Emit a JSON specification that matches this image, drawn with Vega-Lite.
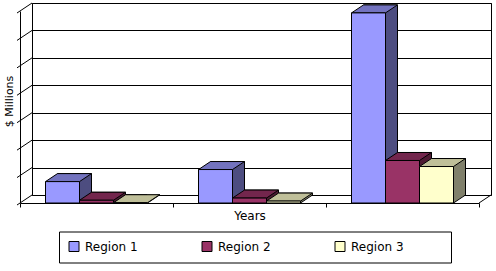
{
  "$schema": "https://vega.github.io/schema/vega-lite/v6.json",
  "width": 459,
  "height": 192,
  "autosize": "none",
  "padding": {"left": 32, "top": 3, "right": 5, "bottom": 76},
  "background": "white",
  "config": {
    "font": "DejaVu Sans",
    "view": {"stroke": "black", "strokeWidth": 1},
    "axis": {"domainColor": "black", "tickColor": "black", "titleColor": "black", "titleFontWeight": "normal", "titleFont": "DejaVu Sans"},
    "axisX": {"orient": "bottom", "offset": 8, "tickBand": "extent", "ticks": true, "tickSize": 4, "labels": false, "domain": true, "grid": false, "titleFontSize": 12, "titlePadding": 3},
    "axisY": {"offset": 12, "ticks": false, "labels": false, "domain": true, "grid": false, "titleFontSize": 11, "titlePadding": 6}
  },
  "datasets": {
    "bars": [
      {"Year": "Year 1", "Region": "Region 1", "value": 0.78},
      {"Year": "Year 1", "Region": "Region 2", "value": 0.10},
      {"Year": "Year 1", "Region": "Region 3", "value": 0.01},
      {"Year": "Year 2", "Region": "Region 1", "value": 1.22},
      {"Year": "Year 2", "Region": "Region 2", "value": 0.18},
      {"Year": "Year 2", "Region": "Region 3", "value": 0.07},
      {"Year": "Year 3", "Region": "Region 1", "value": 6.93},
      {"Year": "Year 3", "Region": "Region 2", "value": 1.55},
      {"Year": "Year 3", "Region": "Region 3", "value": 1.33}
    ],
    "levels": [
      {"Year": "Year 1", "level": 0},
      {"Year": "Year 1", "level": 1},
      {"Year": "Year 1", "level": 2},
      {"Year": "Year 1", "level": 3},
      {"Year": "Year 1", "level": 4},
      {"Year": "Year 1", "level": 5},
      {"Year": "Year 1", "level": 6},
      {"Year": "Year 1", "level": 7}
    ],
    "floorEnd": [
      {"Year": "Year 3", "level": 0}
    ]
  },
  "layer": [
    {
      "data": {"name": "bars"},
      "mark": {"type": "bar", "stroke": "black", "strokeWidth": 1, "opacity": 1},
      "encoding": {
        "x": {"field": "Year", "type": "nominal", "scale": {"paddingInner": 0, "paddingOuter": 0}, "axis": null},
        "xOffset": {"field": "Region", "type": "nominal", "scale": {"paddingInner": 0, "paddingOuter": 0.75}},
        "y": {"field": "value", "type": "quantitative", "scale": {"domain": [0, 7]},
          "axis": {"orient": "left", "offset": 0, "grid": true, "gridColor": "black", "gridOpacity": 1, "gridWidth": 1, "domain": true, "ticks": false, "labels": false, "title": null, "values": [0, 1, 2, 3, 4, 5, 6, 7]}},
        "fill": {"field": "Region", "type": "nominal", "scale": {"domain": ["Region 1", "Region 2", "Region 3"], "range": ["#4D4D80", "#4D1A33", "#80806B"]}, "legend": null}
      }
    },
    {
      "layer": [
        {
          "data": {"name": "bars"},
          "mark": {"type": "point", "shape": "M16.6,-9 L28.6,-9 L28.6,-7.9 L17,0 L16.6,0 Z", "size": 4, "filled": true, "opacity": 1, "strokeWidth": 0},
          "encoding": {
            "x": {"field": "Year", "type": "nominal", "scale": {"range": [-12, 447], "paddingInner": 0, "paddingOuter": 0}, "title": "Years"},
            "xOffset": {"field": "Region", "type": "nominal", "scale": {"paddingInner": 0, "paddingOuter": 0.75}},
            "y": {"datum": 0, "type": "quantitative", "scale": {"domain": [0, 7], "range": [200, 8]}, "title": "$ Millions", "axis": {"orient": "left", "titleY": 98}},
            "fill": {"field": "Region", "type": "nominal", "scale": {"domain": ["Region 1", "Region 2", "Region 3"], "range": ["#4D4D80", "#4D1A33", "#80806B"]}, "legend": null}
          }
        },
        {
          "data": {"name": "bars"},
          "mark": {"type": "point", "shape": "M17,0 L29,-8", "size": 4, "filled": false, "opacity": 1, "stroke": "black", "strokeWidth": 1},
          "encoding": {
            "x": {"field": "Year", "type": "nominal", "scale": {"range": [-12, 447], "paddingInner": 0, "paddingOuter": 0}, "title": "Years"},
            "xOffset": {"field": "Region", "type": "nominal", "scale": {"paddingInner": 0, "paddingOuter": 0.75}},
            "y": {"datum": 0, "type": "quantitative", "scale": {"domain": [0, 7], "range": [200, 8]}, "title": "$ Millions", "axis": {"orient": "left", "titleY": 98}}
          }
        },
        {
          "data": {"name": "bars"},
          "mark": {"type": "point", "shape": "M-17,0 L17,0 L29,-8 L-5,-8 Z", "size": 4, "filled": true, "opacity": 1, "stroke": "black", "strokeWidth": 1},
          "encoding": {
            "x": {"field": "Year", "type": "nominal", "scale": {"range": [-12, 447], "paddingInner": 0, "paddingOuter": 0}, "title": "Years"},
            "xOffset": {"field": "Region", "type": "nominal", "scale": {"paddingInner": 0, "paddingOuter": 0.75}},
            "y": {"field": "value", "type": "quantitative", "scale": {"domain": [0, 7], "range": [200, 8]}, "title": "$ Millions", "axis": {"orient": "left", "titleY": 98}},
            "fill": {"field": "Region", "type": "nominal", "scale": {"domain": ["Region 1", "Region 2", "Region 3"], "range": ["#7373BF", "#73264D", "#BFBF99"]}, "legend": null}
          }
        },
        {
          "data": {"name": "bars"},
          "mark": {"type": "bar", "stroke": "black", "strokeWidth": 1, "opacity": 1},
          "encoding": {
            "x": {"field": "Year", "type": "nominal", "scale": {"range": [-12, 447], "paddingInner": 0, "paddingOuter": 0}, "title": "Years"},
            "xOffset": {"field": "Region", "type": "nominal", "scale": {"paddingInner": 0, "paddingOuter": 0.75}},
            "y": {"field": "value", "type": "quantitative", "scale": {"domain": [0, 7], "range": [200, 8]}, "title": "$ Millions", "axis": {"orient": "left", "titleY": 98}},
            "fill": {"field": "Region", "type": "nominal", "scale": {"domain": ["Region 1", "Region 2", "Region 3"], "range": ["#9999FF", "#993366", "#FFFFCC"]},
              "legend": {"orient": "none", "legendX": 27, "legendY": 228.5, "direction": "horizontal", "columns": 3,
                "title": " ", "titleOrient": "right", "titlePadding": 38, "titleFontSize": 12,
                "symbolType": "square", "symbolSize": 100, "symbolStrokeColor": "black", "symbolStrokeWidth": 1, "symbolOpacity": 1,
                "labelFont": "DejaVu Sans", "labelFontSize": 12, "labelColor": "black", "labelOffset": 5,
                "strokeColor": "black", "padding": 9, "columnPadding": 62}}
          }
        },
        {
          "data": {"name": "levels"},
          "mark": {"type": "point", "shape": "M-3,2 L12,-8", "size": 4, "filled": false, "opacity": 1, "stroke": "black", "strokeWidth": 1},
          "encoding": {
            "x": {"field": "Year", "type": "nominal", "bandPosition": 0, "scale": {"range": [-12, 447], "paddingInner": 0, "paddingOuter": 0}, "title": "Years"},
            "y": {"field": "level", "type": "quantitative", "scale": {"domain": [0, 7], "range": [200, 8]}, "title": "$ Millions", "axis": {"orient": "left", "titleY": 98}}
          }
        },
        {
          "data": {"name": "floorEnd"},
          "mark": {"type": "point", "shape": "M0,0 L12,-8", "size": 4, "filled": false, "opacity": 1, "stroke": "black", "strokeWidth": 1},
          "encoding": {
            "x": {"field": "Year", "type": "nominal", "bandPosition": 1, "scale": {"range": [-12, 447], "paddingInner": 0, "paddingOuter": 0}, "title": "Years"},
            "y": {"field": "level", "type": "quantitative", "scale": {"domain": [0, 7], "range": [200, 8]}, "title": "$ Millions", "axis": {"orient": "left", "titleY": 98}}
          }
        }
      ],
      "resolve": {"scale": {"fill": "independent"}, "legend": {"fill": "independent"}}
    }
  ],
  "resolve": {
    "scale": {"x": "independent", "y": "independent", "xOffset": "independent", "fill": "independent"},
    "axis": {"x": "independent", "y": "independent"},
    "legend": {"fill": "independent"}
  }
}
